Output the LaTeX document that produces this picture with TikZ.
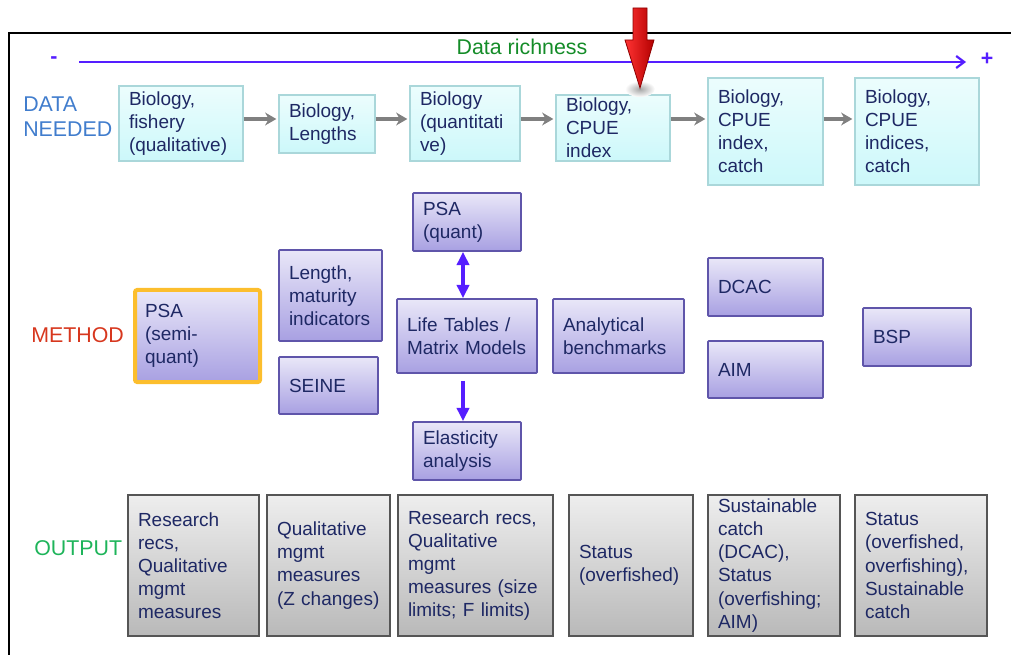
\documentclass[tikz,border=0pt]{standalone}
\usepackage{fontspec}
\setmainfont{Liberation Sans}
\usetikzlibrary{arrows.meta, positioning}

\definecolor{ink}{RGB}{30,40,100}
\definecolor{richness}{RGB}{85,30,255}
\definecolor{richgreen}{RGB}{20,140,40}
\definecolor{datablue}{RGB}{65,125,205}
\definecolor{methodred}{RGB}{215,55,30}
\definecolor{outgreen}{RGB}{30,180,90}
\definecolor{cyantop}{RGB}{236,253,253}
\definecolor{cyanbottom}{RGB}{204,248,250}
\definecolor{cyanline}{RGB}{170,215,218}
\definecolor{purpletop}{RGB}{233,231,248}
\definecolor{purplebottom}{RGB}{168,160,226}
\definecolor{purpleline}{RGB}{95,85,170}
\definecolor{graytop}{RGB}{238,238,238}
\definecolor{graybottom}{RGB}{185,185,185}
\definecolor{grayline}{RGB}{85,85,85}
\definecolor{orangeline}{RGB}{252,190,45}
\definecolor{arrowgray}{RGB}{128,128,128}

\def\px{0.025cm}

\tikzset{
    box/.style={rectangle, inner xsep=10*\px, inner ysep=0pt, align=left, text=ink,
        font=\fontsize{13.5}{16.4}\selectfont},
    databox/.style={box, draw=cyanline, line width=1.3*\px, top color=cyantop, bottom color=cyanbottom},
    methodbox/.style={box, draw=purpleline, line width=1.6*\px, top color=purpletop,
        bottom color=purplebottom, rounded corners=0.6pt},
    psabox/.style={methodbox, draw=orangeline, line width=4*\px, rounded corners=1.5pt},
    outbox/.style={box, draw=grayline, line width=1.6*\px, top color=graytop, bottom color=graybottom},
    rowlabel/.style={anchor=west, align=left, inner sep=0pt, font=\fontsize{15.2}{17.8}\selectfont},
    flow/.style={draw=arrowgray, line width=3.5*\px, shorten >=0.05cm,
        -{Stealth[length=0.28cm, width=0.32cm]}},
    link/.style={draw=richness, line width=4*\px},
}

\begin{document}
\begin{tikzpicture}[x=\px, y=-\px]
    \useasboundingbox (0,0) rectangle (1011,655);

    % frame
    \draw[line width=2*\px] (9,655) -- (9,33) -- (1011,33);

    % data richness axis
    \coordinate (poor) at (79,62);
    \coordinate (rich) at (966,62);
    \draw[richness, line width=2.2*\px, -{Straight Barb[length=0.2cm, width=0.3cm]}] (poor) -- (rich);
    \node[inner sep=0pt, text=richness, font=\fontsize{15.2}{17.8}\selectfont\bfseries] (minus) at (54,60) {-};
    \node[inner sep=0pt, text=richness, font=\fontsize{15.2}{17.8}\selectfont\bfseries] (plus) at (987,59) {+};
    \node[inner sep=0pt, text=richgreen, font=\fontsize{15.2}{17.8}\selectfont] (richlabel) at (522,47) {Data richness};

    % row labels
    \node[rowlabel, text=datablue] (needlabel) at (23,117) {DATA\\NEEDED};
    \node[rowlabel, text=methodred] (methlabel) at (31,335) {METHOD};
    \node[rowlabel, text=outgreen] (outlabel) at (34,548) {OUTPUT};

    % data needed
    \foreach \name/\cx/\cy/\w/\h/\txt in {
        d1/181/123.5/124/75/{Biology,\\fishery\\(qualitative)},
        d2/327/124/96/58/{Biology,\\Lengths},
        d3/465/123.5/110/75/{Biology\\(quantitati\\ve)},
        d4/613/128/114/66/{Biology,\\CPUE\\index},
        d5/765.5/131.5/115/107/{Biology,\\CPUE\\index,\\catch},
        d6/917/131.5/124/107/{Biology,\\CPUE\\indices,\\catch}}{
        \node[databox, minimum width=\w*\px, minimum height=\h*\px, text width=(\w-20)*\px]
            (\name) at (\cx,\cy) {\txt};
    }
    \coordinate (row) at (0,119);
    \foreach \a/\b in {d1/d2, d2/d3, d3/d4, d4/d5, d5/d6}
        \draw[flow] (\a.east |- row) -- (\b.west |- row);

    % methods
    \node[psabox, minimum width=125*\px, minimum height=92*\px, text width=105*\px]
        (m1) at (197.5,336) {PSA\\(semi-\\quant)};
    \foreach \name/\cx/\cy/\w/\h/\txt in {
        m2/330.5/295.5/103/91/{Length,\\maturity\\indicators},
        m3/328.5/385.5/99/57/{SEINE},
        m4/467/222/108/58/{PSA\\(quant)},
        m5/467/336/140/74/{Life~Tables~/\\Matrix~Models},
        m6/618.5/336/131/74/{Analytical\\benchmarks},
        m7/467/451/108/58/{Elasticity\\analysis},
        m8/765.5/287/115/58/{DCAC},
        m9/765.5/369.5/115/57/{AIM},
        m10/917/337/108/58/{BSP}}{
        \node[methodbox, minimum width=\w*\px, minimum height=\h*\px, text width=(\w-20)*\px]
            (\name) at (\cx,\cy) {\txt};
    }
    \coordinate (col) at (463,0);
    \draw[link, {Triangle[length=0.33cm, width=0.3cm]}-{Triangle[length=0.33cm, width=0.3cm]}]
        (m4.south -| col) -- (m5.north -| col);
    \draw[link, shorten <=0.175cm, -{Triangle[length=0.33cm, width=0.3cm]}]
        (m5.south -| col) -- (m7.north -| col);

    % outputs
    \foreach \name/\cx/\w/\txt in {
        o1/193.5/131/{Research\\recs,\\Qualitative\\mgmt\\measures},
        o2/328.5/123/{Qualitative\\mgmt\\measures\\(Z~changes)},
        o3/475.5/155/{Research~recs,\\Qualitative\\mgmt\\measures~(size\\limits;~F~limits)},
        o4/631/124/{Status\\(overfished)},
        o5/774/132/{Sustainable\\catch\\(DCAC),\\Status\\(overfishing;\\AIM)},
        o6/921/132/{Status\\(overfished,\\overfishing),\\Sustainable\\catch}}{
        \node[outbox, minimum width=\w*\px, minimum height=141*\px, text width=(\w-20)*\px]
            (\name) at (\cx,565.5) {\txt};
    }

    % pointer
    \shade[inner color=black!35, outer color=white] (640,89) ellipse (0.375cm and 0.2cm);
    \shade[draw=red!55!black, line width=0.8*\px, left color=red!80!white, right color=red!70!black]
        (633,8) -- (647,8) -- (647,40) -- (654,40) -- (640,88) -- (625,40) -- (633,40) -- cycle;
\end{tikzpicture}
\end{document}
